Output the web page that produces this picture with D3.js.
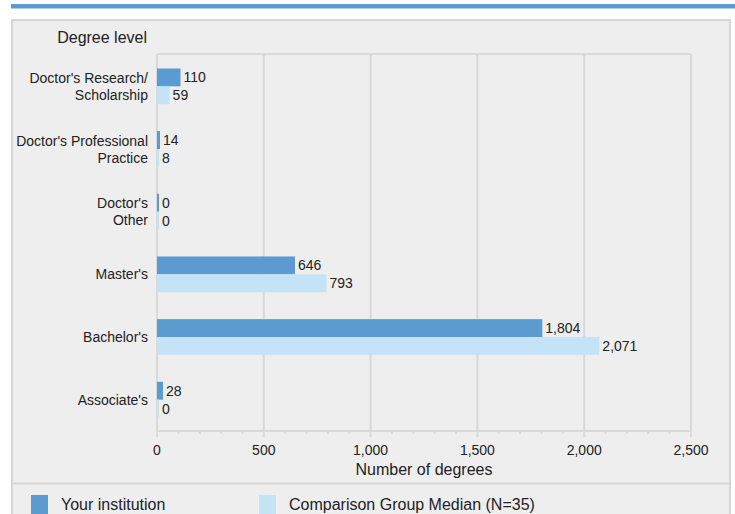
<!DOCTYPE html>
<html>
<head>
<meta charset="utf-8">
<script src="https://cdn.jsdelivr.net/npm/d3@7/dist/d3.min.js"></script>
<style>
body { margin: 0; background: #fff; }
svg { display: block; font-family: "Liberation Sans", Arial, sans-serif; }
.grid line { stroke: #d9d9d9; stroke-width: 2; }
.cat { font-size: 14px; fill: #222; }
.val { font-size: 14px; fill: #222; }
.tick-label { font-size: 14px; fill: #222; }
</style>
</head>
<body>
<svg></svg>
<script>

// categories (top to bottom)
var degreeLevels = [
    ["Doctor's Research/", "Scholarship"],
    ["Doctor's Professional", "Practice"],
    ["Doctor's", "Other"],
    ["Master's"],
    ["Bachelor's"],
    ["Associate's"]
];
var seriesNames = ["Your institution", "Comparison Group Median (N=35)"];
var yourInstitution = [110, 14, 0, 646, 1804, 28];
var comparisonMedian = [59, 8, 0, 793, 2071, 0];
var xTicks = [0, 500, 1000, 1500, 2000, 2500];
var colors = ["#5b9bd0", "#c5e3f6"];

var width = 735, height = 514;
var plotLeft = 157, plotRight = 691, plotTop = 54, plotBottom = 431;

var svg = d3.select("svg")
            .attr("width", width)
            .attr("height", height);

// top strip
svg.append("rect")
    .attr("x", 11).attr("y", 4)
    .attr("width", width - 11).attr("height", 4.5)
    .style("fill", "#5b9bd0");

// panel
svg.append("rect")
    .attr("x", 12).attr("y", 20)
    .attr("width", 718).attr("height", height)
    .style("fill", "#eeeeee")
    .style("stroke", "#d6d6d6")
    .style("stroke-width", 2);

// separator above legend
svg.append("line")
    .attr("x1", 12).attr("x2", 730)
    .attr("y1", 483.5).attr("y2", 483.5)
    .style("stroke", "#d6d6d6")
    .style("stroke-width", 2);

var x = d3.scaleLinear()
    .domain([0, 2500])
    .range([plotLeft, plotRight]);

var y = d3.scaleBand()
    .domain(d3.range(degreeLevels.length))
    .range([plotTop + 1, plotBottom])
    .paddingInner(0.43)
    .paddingOuter(0.215);

var ySub = d3.scaleBand()
    .domain([0, 1])
    .range([0, y.bandwidth()]);

// gridlines + frame
var grid = svg.append("g").attr("class", "grid");
grid.selectAll("line.v")
    .data(xTicks)
    .enter().append("line")
    .attr("class", "v")
    .attr("x1", function(d) { return x(d); })
    .attr("x2", function(d) { return x(d); })
    .attr("y1", plotTop)
    .attr("y2", function(d) { return plotBottom + 6; });
grid.append("line")
    .attr("x1", plotLeft).attr("x2", plotRight)
    .attr("y1", plotTop).attr("y2", plotTop);
grid.append("line")
    .attr("x1", plotLeft).attr("x2", plotRight)
    .attr("y1", plotBottom).attr("y2", plotBottom);

// minor ticks every 100
var minor = d3.range(0, 2501, 100).filter(function(d) { return d % 500 !== 0; });
grid.selectAll("line.minor")
    .data(minor)
    .enter().append("line")
    .attr("class", "minor")
    .attr("x1", function(d) { return x(d); })
    .attr("x2", function(d) { return x(d); })
    .attr("y1", plotBottom)
    .attr("y2", plotBottom + 3);

// tick labels
svg.selectAll("text.tick-label")
    .data(xTicks)
    .enter().append("text")
    .attr("class", "tick-label")
    .attr("x", function(d) { return x(d); })
    .attr("y", 455)
    .attr("text-anchor", "middle")
    .text(function(d) { return d3.format(",")(d); });

svg.append("text")
    .attr("x", (plotLeft + plotRight) / 2)
    .attr("y", 475)
    .attr("text-anchor", "middle")
    .style("font-size", "16px")
    .style("fill", "#222")
    .text("Number of degrees");

svg.append("text")
    .attr("x", 147)
    .attr("y", 43)
    .attr("text-anchor", "end")
    .style("font-size", "16px")
    .style("fill", "#222")
    .text("Degree level");

// category labels
var cats = svg.selectAll("text.cat")
    .data(degreeLevels)
    .enter().append("text")
    .attr("class", "cat")
    .attr("text-anchor", "end")
    .attr("y", function(d, i) {
        var c = y(i) + y.bandwidth() / 2;
        return c + 5 - (d.length - 1) * 8.5;
    });
cats.selectAll("tspan")
    .data(function(d) { return d; })
    .enter().append("tspan")
    .attr("x", 148)
    .attr("dy", function(d, i) { return i === 0 ? 0 : 17; })
    .text(function(d) { return d; });

// bars
var rows = [];
degreeLevels.forEach(function(c, i) {
    rows.push({ cat: i, s: 0, v: yourInstitution[i] });
    rows.push({ cat: i, s: 1, v: comparisonMedian[i] });
});

svg.selectAll("rect.bar")
    .data(rows)
    .enter().append("rect")
    .attr("class", "bar")
    .attr("x", x(0))
    .attr("y", function(d) { return y(d.cat) + ySub(d.s); })
    .attr("height", ySub.bandwidth())
    .attr("width", function(d) { return Math.max(2, x(d.v) - x(0)); })
    .style("fill", function(d) { return colors[d.s]; });

svg.selectAll("text.val")
    .data(rows)
    .enter().append("text")
    .attr("class", "val")
    .attr("x", function(d) { return x(0) + Math.max(2, x(d.v) - x(0)) + 3; })
    .attr("y", function(d) { return y(d.cat) + ySub(d.s) + ySub.bandwidth() / 2 + 5; })
    .text(function(d) { return d3.format(",")(d.v); });

// legend
var legendX = [31, 259];
var legend = svg.selectAll("g.legend")
    .data(seriesNames)
    .enter().append("g")
    .attr("class", "legend")
    .attr("transform", function(d, i) { return "translate(" + legendX[i] + ",495)"; });
legend.append("rect")
    .attr("width", 17).attr("height", 19)
    .style("fill", function(d, i) { return colors[i]; });
legend.append("text")
    .attr("x", 30).attr("y", 15)
    .style("font-size", "16px")
    .style("fill", "#222")
    .text(function(d) { return d; });

</script>
</body>
</html>
